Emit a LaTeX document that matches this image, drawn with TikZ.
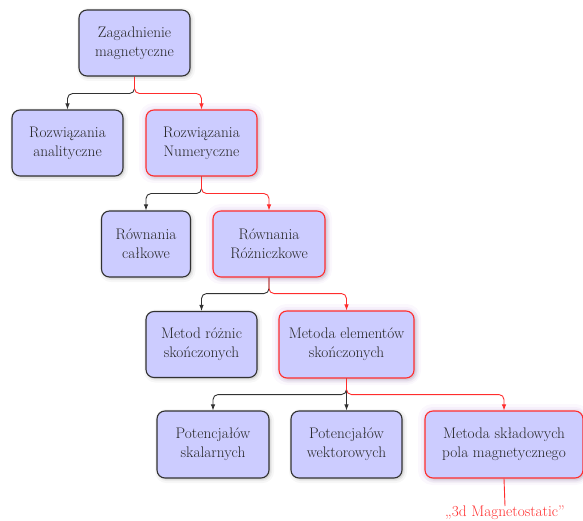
\documentclass[tikz,border=0pt]{standalone}
\usepackage{fontspec}
\usetikzlibrary{arrows.meta,shadows}
\definecolor{boxfill}{RGB}{204,204,255}
\definecolor{boxline}{RGB}{50,50,50}
\definecolor{redline}{RGB}{255,45,45}
\definecolor{glowc}{RGB}{150,70,210}
\tikzset{
  box/.style={rounded corners=8pt, fill=boxfill, draw=boxline, line width=1.1pt,
    align=center, inner sep=0pt, text=black!85, font=\fontsize{15.3}{19}\selectfont,
    general shadow={draw=black, line width=7pt, draw opacity=0.03, fill=black, fill opacity=0.03, shadow xshift=1.5pt, shadow yshift=-1.5pt},
    general shadow={draw=black, line width=3pt, draw opacity=0.05, fill=black, fill opacity=0.05, shadow xshift=1.5pt, shadow yshift=-1.5pt}},
  redbox/.style={box, draw=redline,
    general shadow={draw=glowc, line width=14pt, draw opacity=0.04, fill=glowc, fill opacity=0.03},
    general shadow={draw=glowc, line width=8pt, draw opacity=0.05}},
  conn/.style={line width=0.9pt, rounded corners=5pt, -{Latex[length=6pt,width=4.5pt]}},
  blk/.style={conn, draw=boxline},
  rd/.style={conn, draw=redline},
}
\begin{document}
\begin{tikzpicture}[x=1pt,y=-1pt]
\useasboundingbox (0,0) rectangle (583,521);
\node[box, minimum width=111pt, minimum height=66pt] (z) at (134.5,43) {Zagadnienie\\magnetyczne};
\node[box, minimum width=111pt, minimum height=66pt] (ra) at (67.5,143) {Rozwiązania\\analityczne};
\node[redbox, minimum width=111pt, minimum height=66pt] (rn) at (201.5,143) {Rozwiązania\\Numeryczne};
\node[box, minimum width=89pt, minimum height=66pt] (rc) at (146,244) {Równania\\całkowe};
\node[redbox, minimum width=112pt, minimum height=66pt] (rr) at (269,244) {Równania\\Różniczkowe};
\node[box, minimum width=111pt, minimum height=66pt] (mr) at (201.5,344.5) {Metod różnic\\skończonych};
\node[redbox, minimum width=135pt, minimum height=67pt] (me) at (346.5,344.5) {Metoda elementów\\skończonych};
\node[box, minimum width=112pt, minimum height=67pt] (ps) at (213,444.5) {Potencjałów\\skalarnych};
\node[box, minimum width=111pt, minimum height=67pt] (pw) at (346.5,444.5) {Potencjałów\\wektorowych};
\node[redbox, minimum width=158pt, minimum height=67pt] (ms) at (504,444.5) {Metoda składowych\\pola magnetycznego};
\node[anchor=north, inner sep=0pt, text=redline, font=\fontsize{15.3}{19}\selectfont] (lab) at (505,506) {„3d Magnetostatic”};

\draw[blk] (z.south) -- ++(0,17) -| (ra.north);
\draw[rd] (z.south) -- ++(0,17) -| (rn.north);
\draw[blk] (rn.south) -- ++(0,17) -| (rc.north);
\draw[rd] (rn.south) -- ++(0,17) -| (rr.north);
\draw[blk] (rr.south) -- ++(0,16) -| (mr.north);
\draw[rd] (rr.south) -- ++(0,16) -| (me.north);
\draw[blk] (me.south) -- ++(0,16) -| (ps.north);
\draw[blk] (me.south) -- (pw.north);
\draw[rd] (me.south) -- ++(0,16) -| (ms.north);
\draw[redline, line width=0.9pt] (ms.south) -- (lab.north);
\end{tikzpicture}
\end{document}
